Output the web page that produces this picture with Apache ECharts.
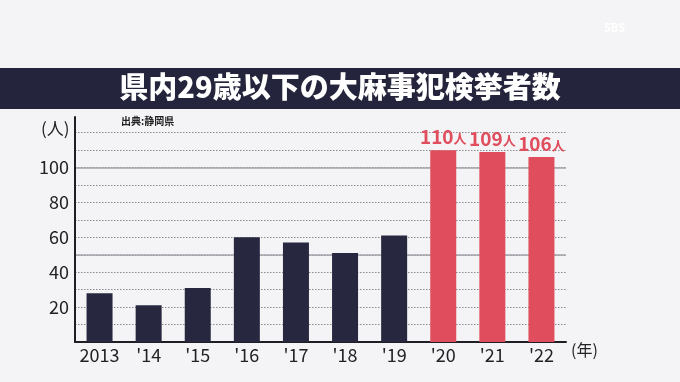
<!DOCTYPE html>
<html><head><meta charset="utf-8">
<script src="https://cdn.jsdelivr.net/npm/echarts@6/dist/echarts.min.js"></script>
<style>html,body{margin:0;padding:0;background:#f4f4f6}#c{width:680px;height:382px}</style>
</head><body><div id="c"></div>
<script>
const categories = ['2013', "'14", "'15", "'16", "'17", "'18", "'19", "'20", "'21", "'22"];
const values = [28, 21, 31, 60, 57, 51, 61, 110, 109, 106];
const highlightFrom = 7;
const yLabelTicks = [20, 40, 60, 80, 100];
const titleText = '県内29歳以下の大麻事犯検挙者数';
const sourceText = '出典:静岡県';

const NAVY = '#27283f', RED = '#e04d5d', FONT = '"Noto Sans CJK JP","Noto Sans",sans-serif';

const chart = echarts.init(document.getElementById('c'));
const data = values.map((v, i) => i >= highlightFrom ? {
  value: v,
  itemStyle: { color: RED },
  label: {
    show: true, position: 'top', distance: 4,
    formatter: '{a|{c}}{b|人}',
    rich: {
      a: { fontFamily: FONT, fontSize: 19, fontWeight: 'bold', color: RED },
      b: { fontFamily: FONT, fontSize: 13, fontWeight: 'bold', color: RED, padding: [3, 0, 0, 0] }
    }
  }
} : { value: v });

chart.setOption({
  backgroundColor: '#f4f4f6',
  animation: false,
  graphic: [
    { type: 'rect', left: 0, top: 68, shape: { width: 680, height: 41 }, style: { fill: '#24243c' }, z: 0 },
    { type: 'text', left: 'center', top: 72, style: {
        text: titleText, fill: '#fff', font: '900 29px ' + FONT,
        shadowColor: 'rgba(0,0,0,0.8)', shadowBlur: 3, shadowOffsetX: 1, shadowOffsetY: 1 }, z: 10 },
    { type: 'text', left: 121, top: 116, style: { text: sourceText, fill: '#222', font: 'bold 10px ' + FONT } },
    { type: 'text', left: 41, top: 120, style: { text: '(人)', fill: '#222', font: '17px ' + FONT } },
    { type: 'text', left: 571, top: 342, style: { text: '(年)', fill: '#222', font: '16px ' + FONT } },
    { type: 'text', left: 604, top: 22, style: { text: 'SBS', fill: '#ffffff', font: 'bold 11px ' + FONT } }
  ],
  grid: { left: 75, right: 114, top: 117, bottom: 40, containLabel: false },
  xAxis: {
    type: 'category', data: categories,
    axisLine: { lineStyle: { color: '#1e1e24', width: 2 } },
    axisTick: { show: false },
    axisLabel: { interval: 0, color: '#222', fontFamily: FONT, fontSize: 18, margin: 4 }
  },
  yAxis: [{
    type: 'value', min: 0, max: 129, interval: 10,
    axisLine: { show: true, lineStyle: { color: '#1e1e24', width: 2 } },
    axisTick: { show: false },
    axisLabel: {
      color: '#222', fontFamily: FONT, fontSize: 18, margin: 6,
      showMaxLabel: false,
      formatter: v => yLabelTicks.includes(v) ? String(v) : ''
    },
    splitLine: { show: true, showMaxLine: false, lineStyle: { type: [1.5, 1.5], color: '#8a8a90', width: 1 } }
  }, {
    type: 'value', min: 0, max: 129, interval: 50, position: 'left',
    axisLine: { show: false }, axisTick: { show: false }, axisLabel: { show: false },
    splitLine: { show: true, showMaxLine: false, lineStyle: { type: 'solid', color: '#a3a3aa', width: 1.5 } }
  }],
  series: [{
    type: 'bar', data: data, barWidth: 26,
    itemStyle: { color: NAVY }
  }]
});
</script></body></html>
